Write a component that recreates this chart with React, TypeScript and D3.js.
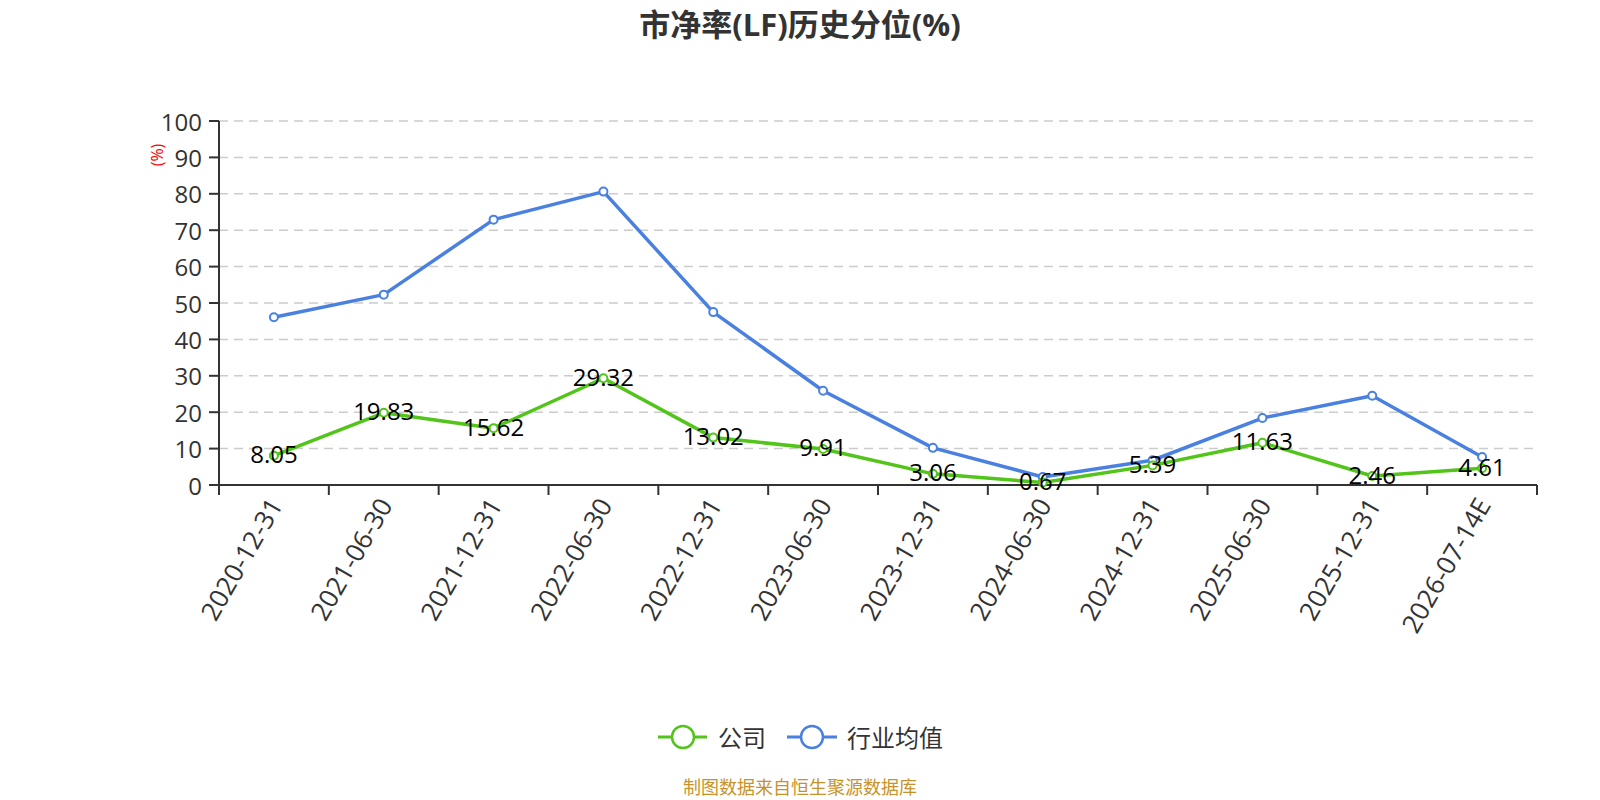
import React from "react";
import * as d3 from "d3";

// 报告期
const categories = [
  "2020-12-31", "2021-06-30", "2021-12-31", "2022-06-30", "2022-12-31", "2023-06-30",
  "2023-12-31", "2024-06-30", "2024-12-31", "2025-06-30", "2025-12-31", "2026-07-14E",
];
// 公司 PB 历史分位
const companyValues = [8.05, 19.83, 15.62, 29.32, 13.02, 9.91, 3.06, 0.67, 5.39, 11.63, 2.46, 4.61];
// 行业均值 (no labels)
const industryValues = [46.1, 52.3, 72.9, 80.6, 47.5, 25.9, 10.2, 2.2, 6.8, 18.4, 24.5, 7.7];
const yTicks = [0, 10, 20, 30, 40, 50, 60, 70, 80, 90, 100];

const W = 1600;
const H = 800;
const GREEN = "#52c41a";
const BLUE = "#4a80e0";
const FONT = "'Open Sans', 'Noto Sans CJK SC', sans-serif";

export default function App() {
  const x = d3.scaleBand<string>().domain(categories).range([219, 1537]);
  const y = d3.scaleLinear().domain([0, 100]).range([485, 121]);
  const cx = (c: string) => (x(c) ?? 0) + x.bandwidth() / 2;

  const line = d3
    .line<number>()
    .x((_, i) => cx(categories[i]))
    .y((d) => y(d));

  const [x0, x1] = x.range();

  return (
    <div style={{ position: "absolute", left: 0, top: 0 }}>
      <svg width={W} height={H} style={{ display: "block", background: "#fff" }} fontFamily={FONT}>
        {/* title */}
        <text x={W / 2} y={24} textAnchor="middle" dominantBaseline="central" fontSize={31} fontWeight="bold" fill="#333">
          市净率(LF)历史分位(%)
        </text>

        {/* grid */}
        {yTicks.filter((t) => t > 0).map((t) => (
          <line key={t} x1={x0} x2={x1} y1={y(t)} y2={y(t)} stroke="#ccc" strokeWidth={1.5} strokeDasharray="9,6" />
        ))}

        {/* y axis */}
        <line x1={x0} x2={x0} y1={y(100)} y2={y(0)} stroke="#333" strokeWidth={2} />
        {yTicks.map((t) => (
          <g key={t}>
            <line x1={x0 - 10} x2={x0} y1={y(t)} y2={y(t)} stroke="#333" strokeWidth={2} />
            <text x={x0 - 17} y={y(t)} textAnchor="end" dominantBaseline="central" fontSize={24} fill="#333">
              {t}
            </text>
          </g>
        ))}
        <text
          transform={`translate(157,155) rotate(-90)`}
          textAnchor="middle"
          dominantBaseline="central"
          fontSize={16}
          fill="red"
        >
          (%)
        </text>

        {/* x axis */}
        <line x1={x0} x2={x1} y1={y(0)} y2={y(0)} stroke="#333" strokeWidth={2} />
        {[...categories.map((c) => x(c) ?? 0), x1].map((p, i) => (
          <line key={i} x1={p} x2={p} y1={y(0)} y2={y(0) + 10} stroke="#333" strokeWidth={2} />
        ))}
        {categories.map((c) => (
          <text
            key={c}
            transform={`translate(${cx(c) + 1},${y(0) + 15}) rotate(-60)`}
            textAnchor="end"
            dominantBaseline="central"
            fontSize={26}
            fill="#333"
          >
            {c}
          </text>
        ))}

        {/* series */}
        <path d={line(industryValues) ?? ""} fill="none" stroke={BLUE} strokeWidth={3.5} strokeLinejoin="round" />
        <path d={line(companyValues) ?? ""} fill="none" stroke={GREEN} strokeWidth={3.5} strokeLinejoin="round" />
        {industryValues.map((v, i) => (
          <circle key={"b" + i} cx={cx(categories[i])} cy={y(v)} r={4} fill="#fff" stroke={BLUE} strokeWidth={2} />
        ))}
        {companyValues.map((v, i) => (
          <circle key={"g" + i} cx={cx(categories[i])} cy={y(v)} r={4} fill="#fff" stroke={GREEN} strokeWidth={2} />
        ))}
        {companyValues.map((v, i) => (
          <text
            key={"l" + i}
            x={cx(categories[i])}
            y={y(v) - 2}
            textAnchor="middle"
            dominantBaseline="central"
            fontSize={24}
            fill="#000"
          >
            {v.toFixed(2)}
          </text>
        ))}

        {/* legend */}
        <g>
          <line x1={658} x2={707} y1={737} y2={737} stroke={GREEN} strokeWidth={3} />
          <circle cx={683} cy={737} r={11} fill="#fff" stroke={GREEN} strokeWidth={2.5} />
          <text x={718} y={737} dominantBaseline="central" fontSize={24} fill="#333">公司</text>
          <line x1={787} x2={837} y1={737} y2={737} stroke={BLUE} strokeWidth={3} />
          <circle cx={812} cy={737} r={11} fill="#fff" stroke={BLUE} strokeWidth={2.5} />
          <text x={847} y={737} dominantBaseline="central" fontSize={24} fill="#333">行业均值</text>
        </g>

        {/* source */}
        <text x={W / 2} y={787} textAnchor="middle" dominantBaseline="central" fontSize={18} fill="#c8922a">
          制图数据来自恒生聚源数据库
        </text>
      </svg>
    </div>
  );
}
